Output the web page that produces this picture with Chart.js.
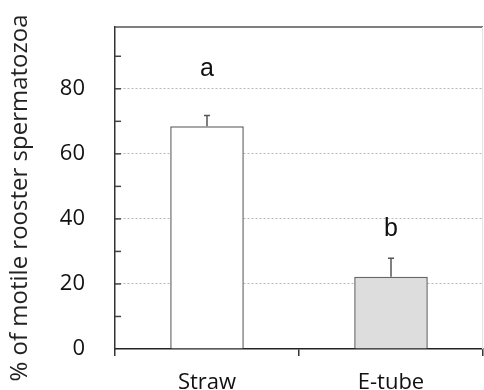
<!DOCTYPE html>
<html>
<head>
<meta charset="utf-8">
<script src="https://cdn.jsdelivr.net/npm/chart.js@4"></script>
<style>
    body { margin: 0; background: #fff; }
    canvas { display: block; }
</style>
</head>
<body>
<canvas id="motilidade" width="484" height="390"></canvas>
<script>
// dados
const categorias = ['Straw', 'E-tube']
const motilidade = [68.5, 22.2]
const erroPadrao = [3.3, 5.7]
const letras = ['a', 'b']
const letraY = [86, 37]
const coresBarras = ['#ffffff', '#dddddd']
const tituloY = '% of motile rooster spermatozoa'

//? Desenha barras de erro, letras, bordas e marcas internas
const extras = {
    id: 'extras',
    afterDatasetsDraw(chart) {
        const ctx = chart.ctx
        const y = chart.scales.y
        const area = chart.chartArea
        const barras = chart.getDatasetMeta(0).data

        ctx.save()
        // barras de erro (so para cima)
        ctx.strokeStyle = '#555'
        ctx.lineWidth = 1.5
        for (let c = 0; c < barras.length; c++) {
            const x = barras[c].x
            const topo = y.getPixelForValue(motilidade[c])
            const fim = y.getPixelForValue(motilidade[c] + erroPadrao[c])
            ctx.beginPath()
            ctx.moveTo(x, topo)
            ctx.lineTo(x, fim)
            ctx.moveTo(x - 3, fim)
            ctx.lineTo(x + 3, fim)
            ctx.stroke()
        }

        // letras de significancia
        ctx.fillStyle = '#111'
        ctx.font = '25px "Liberation Sans", Arial, sans-serif'
        ctx.textAlign = 'center'
        ctx.textBaseline = 'middle'
        for (let c = 0; c < barras.length; c++) {
            ctx.fillText(letras[c], barras[c].x, y.getPixelForValue(letraY[c]))
        }

        // marcas menores para dentro do grafico
        ctx.strokeStyle = '#444'
        ctx.lineWidth = 1.5
        y.ticks.forEach(t => {
            if (t.value === 0) return
            const py = y.getPixelForValue(t.value)
            ctx.beginPath()
            ctx.moveTo(area.left, py)
            ctx.lineTo(area.left + 6, py)
            ctx.stroke()
        })

        // borda de cima e da direita
        ctx.strokeStyle = '#555'
        ctx.lineWidth = 1.5
        ctx.beginPath()
        ctx.moveTo(area.left, area.top)
        ctx.lineTo(area.right, area.top)
        ctx.stroke()
        ctx.strokeStyle = '#e4e4e4'
        ctx.lineWidth = 1
        ctx.beginPath()
        ctx.moveTo(area.right - 0.5, area.top)
        ctx.lineTo(area.right - 0.5, area.bottom)
        ctx.stroke()

        // titulo do eixo y
        ctx.fillStyle = '#222'
        ctx.font = '24px "Open Sans", sans-serif'
        ctx.translate(20, 198)
        ctx.rotate(-Math.PI / 2)
        ctx.fillText(tituloY, 0, 0)
        ctx.restore()
    }
}

const ctx = document.getElementById('motilidade').getContext('2d')
const grafico = new Chart(ctx, {
    type: 'bar',
    data: {
        labels: categorias,
        datasets: [{
            data: motilidade,
            backgroundColor: coresBarras,
            borderColor: '#666',
            borderWidth: 1.5,
            borderSkipped: 'bottom',
            categoryPercentage: 1,
            barPercentage: 0.4
        }]
    },
    options: {
        responsive: false,
        animation: false,
        layout: { padding: { top: 27, right: 1 } },
        plugins: {
            legend: { display: false },
            tooltip: { enabled: false }
        },
        scales: {
            x: {
                afterFit: (scale) => { scale.height = 41 },
                grid: {
                    offset: true,
                    drawOnChartArea: false,
                    drawTicks: true,
                    tickLength: 7,
                    color: '#333',
                    lineWidth: 1.5
                },
                border: { color: '#222', width: 1.5 },
                ticks: {
                    color: '#111',
                    padding: 14,
                    font: { family: '"Open Sans", sans-serif', size: 22 }
                }
            },
            y: {
                min: 0,
                max: 99,
                afterFit: (scale) => {
                    scale.width = 115
                    scale.paddingTop = 0
                    scale.paddingBottom = 0
                },
                grid: {
                    drawTicks: false,
                    color: (c) => (c.tick && c.tick.value % 20 === 0 && c.tick.value > 0) ? '#b8b8b8' : 'rgba(0,0,0,0)',
                    lineWidth: 1
                },
                border: { color: '#333', width: 1.5, dash: [2, 2] },
                ticks: {
                    stepSize: 10,
                    includeBounds: false,
                    padding: 30,
                    color: '#111',
                    font: { family: '"Open Sans", sans-serif', size: 22 },
                    callback: (v) => v % 20 === 0 ? v : ''
                }
            }
        }
    },
    plugins: [extras]
})
</script>
</body>
</html>
